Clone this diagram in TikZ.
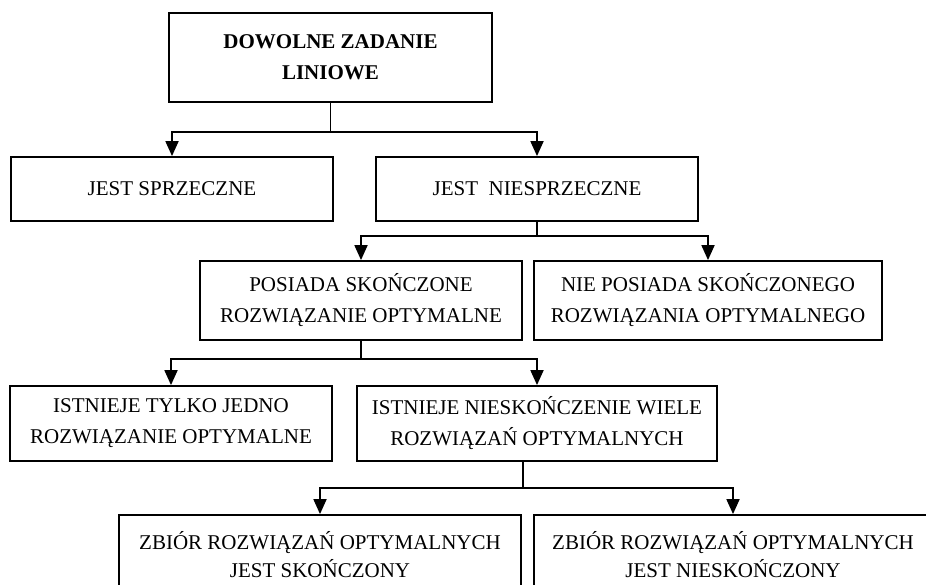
\documentclass[tikz,border=0pt]{standalone}
\usepackage{fontspec}
\setmainfont{Liberation Serif}
\usetikzlibrary{arrows.meta}
\begin{document}
\begin{tikzpicture}[
        x=1pt, y=-1pt,
        every node/.style={draw, rectangle, align=center, line width=1.8pt, inner sep=0pt,
            font=\fontsize{21}{31}\selectfont},
        titlen/.style={font=\fontsize{21}{31}\selectfont\bfseries},
        lown/.style={font=\fontsize{21}{28}\selectfont},
        link/.style={draw, line width=1.8pt, -{Triangle[length=15pt,width=13pt]}},
    ]
    \useasboundingbox (0,0) rectangle (926,585);
    \clip (0,0) rectangle (926,585);
    % boxes
    \node[titlen, minimum width=323pt, minimum height=89pt](zadanie) at (330.5,57.5){DOWOLNE ZADANIE\\LINIOWE};
    \node[minimum width=322pt, minimum height=64pt](sprz) at (172,189){JEST SPRZECZNE};
    \node[minimum width=322pt, minimum height=64pt](niesprz) at (537,189){JEST\ \ NIESPRZECZNE};
    \node[minimum width=322pt, minimum height=79pt](skon) at (361,300.5){POSIADA SKOŃCZONE\\ROZWIĄZANIE OPTYMALNE};
    \node[minimum width=348pt, minimum height=79pt](nieskon) at (708,300.5){NIE POSIADA SKOŃCZONEGO\\ROZWIĄZANIA OPTYMALNEGO};
    \node[minimum width=322pt, minimum height=75pt](jedno) at (171,423.5){ISTNIEJE TYLKO JEDNO\\ROZWIĄZANIE OPTYMALNE};
    \node[minimum width=360pt, minimum height=75pt](wiele) at (537,423.5){ISTNIEJE NIESKOŃCZENIE WIELE\\ROZWIĄZAŃ OPTYMALNYCH};
    \node[lown, minimum width=402pt, minimum height=80pt](zbskon) at (320,555){ZBIÓR ROZWIĄZAŃ OPTYMALNYCH\\JEST SKOŃCZONY};
    \node[lown, minimum width=398pt, minimum height=80pt](zbnieskon) at (733,555){ZBIÓR ROZWIĄZAŃ OPTYMALNYCH\\JEST NIESKOŃCZONY};
    % connectors
    \draw[link] (zadanie.south) -- ++(0,29) -| (sprz.north);
    \draw[link] (zadanie.south) -- ++(0,29) -| (niesprz.north);
    \draw[link] (niesprz.south) -- ++(0,14) -| (skon.north);
    \draw[link] (niesprz.south) -- ++(0,14) -| (nieskon.north);
    \draw[link] (skon.south) -- ++(0,18) -| (jedno.north);
    \draw[link] (skon.south) -- ++(0,18) -| (wiele.north);
    \draw[link] ([xshift=-14pt]wiele.south) -- ++(0,26) -| (zbskon.north);
    \draw[link] ([xshift=-14pt]wiele.south) -- ++(0,26) -| (zbnieskon.north);
\end{tikzpicture}
\end{document}
